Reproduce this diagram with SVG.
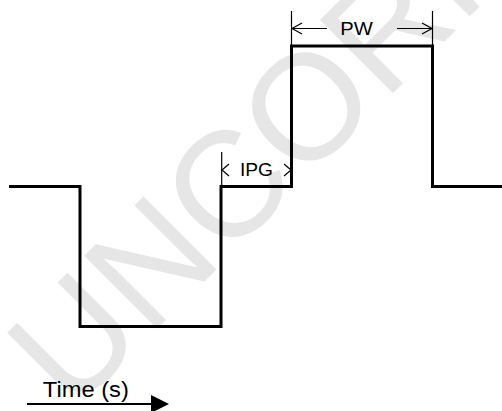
<svg xmlns="http://www.w3.org/2000/svg" width="502" height="411" viewBox="0 0 502 411">
<style>
.wm{font-family:"Liberation Sans",Arial,sans-serif;fill:#e6e6e6;}
.lbl{font-family:"Liberation Sans",Arial,sans-serif;fill:#000;}
.wave{fill:none;stroke:#000;stroke-width:3;stroke-linejoin:miter;stroke-linecap:butt;}
.thin{fill:none;stroke:#000;stroke-width:1.2;}
</style>
<rect width="502" height="411" fill="#fff"/>
<g id="watermark">
<text class="wm" x="0" y="0" font-size="150" transform="translate(72,414) rotate(-45)">UNCORR</text>
</g>
<g id="waveform">
<path class="wave" d="M9,186.5 H80 V326.5 H221 V186.5 H291.5 V46 H432.5 V186.5 H502"/>
</g>
<g id="connectors">
<line class="thin" x1="291.5" y1="11" x2="291.5" y2="46"/>
<line class="thin" x1="432.5" y1="11" x2="432.5" y2="46"/>
<line class="thin" x1="291.5" y1="28.5" x2="327" y2="28.5"/>
<polyline class="thin" points="302,23 292,28.5 302,34"/>
<line class="thin" x1="397" y1="28.5" x2="432" y2="28.5"/>
<polyline class="thin" points="422,23 432,28.5 422,34"/>
<line class="thin" x1="221.7" y1="152" x2="221.7" y2="186"/>
<polyline class="thin" points="229,164 222,170 229,176"/>
<polyline class="thin" points="284,164 291,170 284,176"/>
<line x1="27" y1="404" x2="153" y2="404" stroke="#000" stroke-width="2"/>
<polygon points="151,395 169,404 151,413" fill="#000"/>
</g>
<g id="labels">
<text class="lbl" x="340.3" y="35" font-size="18" textLength="32.5" lengthAdjust="spacingAndGlyphs">PW</text>
<text class="lbl" x="240" y="175.7" font-size="18" textLength="33" lengthAdjust="spacingAndGlyphs">IPG</text>
<text class="lbl" x="42.8" y="396.7" font-size="22" textLength="86" lengthAdjust="spacingAndGlyphs">Time (s)</text>
</g>
</svg>
